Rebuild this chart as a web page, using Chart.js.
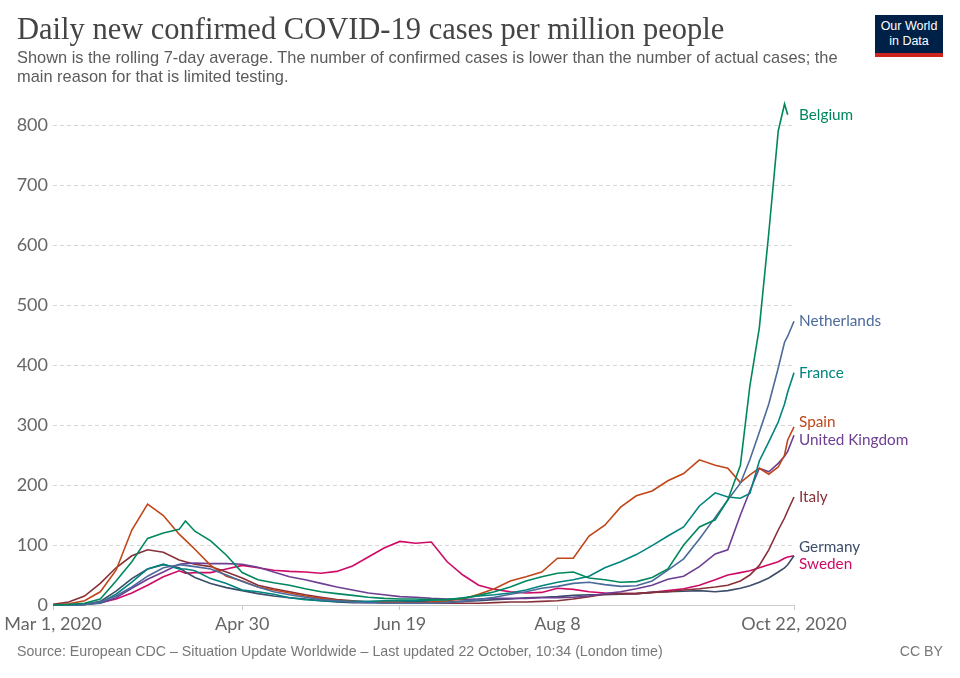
<!DOCTYPE html>
<html>
<head>
<meta charset="utf-8">
<script src="https://cdn.jsdelivr.net/npm/chart.js@4"></script>
<style>
  html, body { margin: 0; padding: 0; background: #fff; }
  #wrap { position: relative; width: 960px; height: 678px; overflow: hidden; font-family: "Liberation Sans", Arial, sans-serif; }
  #chart { position: absolute; left: 0; top: 0; }
  #title { position: absolute; left: 17px; top: 12px; font-family: "Liberation Serif", "DejaVu Serif", serif; font-size: 30.5px; color: #444; white-space: nowrap; }
  #subtitle { position: absolute; left: 17px; top: 48px; font-size: 16.4px; line-height: 19px; color: #5b5b5b; white-space: nowrap; }
  #source { position: absolute; left: 17px; top: 643px; font-size: 14.2px; color: #777; }
  #cc { position: absolute; right: 17px; top: 643px; font-size: 14.2px; color: #777; }
  #logo { position: absolute; left: 875px; top: 15px; width: 68px; height: 34px; background: #002147; border-bottom: 4px solid #ce261e; color: #fff; font-size: 12.5px; line-height: 15px; text-align: center; padding-top: 4px; }
</style>
</head>
<body>
<div id="wrap">
  <canvas id="chart" width="960" height="678"></canvas>
  <div id="title">Daily new confirmed COVID-19 cases per million people</div>
  <div id="subtitle">Shown is the rolling 7-day average. The number of confirmed cases is lower than the number of actual cases; the<br>main reason for that is limited testing.</div>
  <div id="logo">Our World<br>in Data</div>
  <div id="source">Source: European CDC – Situation Update Worldwide – Last updated 22 October, 10:34 (London time)</div>
  <div id="cc">CC BY</div>
</div>
<script>
// days since Mar 1, 2020
const days = [0, 5, 10, 15, 20, 25, 30, 35, 40, 42, 45, 50, 55, 60, 65, 70, 75, 80, 85, 90,
  95, 100, 105, 110, 115, 120, 125, 130, 135, 140, 145, 150, 155, 160, 165, 170, 175, 180, 185, 190,
  195, 200, 205, 210, 214, 218, 221, 224, 227, 230, 232, 233, 235];

const belgium = [0, 1, 3, 10, 40, 72, 111, 120, 126, 140, 123, 107, 83, 54, 42, 37, 33, 27, 22, 19,
  16, 13, 11, 10, 10, 9, 9, 11, 16, 22, 30, 40, 47, 53, 55, 45, 42, 38, 39, 46,
  60, 100, 130, 142, 175, 233, 365, 462, 620, 790, 835, 817, null];
const netherlands = [0, 0, 1, 5, 15, 30, 48, 62, 67, 66, 64, 60, 50, 39, 30, 22, 17, 13, 9, 7,
  5, 4, 3, 3, 3, 3, 4, 6, 9, 13, 18, 22, 28, 31, 36, 38, 34, 31, 32, 40,
  58, 77, 110, 146, 175, 203, 242, 288, 335, 395, 438, 448, 473];
const france = [0, 0, 1, 4, 18, 38, 60, 68, 60, 60, 57, 44, 36, 25, 22, 18, 12, 9, 7, 6,
  6, 6, 7, 7, 7, 8, 9, 12, 15, 17, 20, 25, 32, 38, 42, 48, 62, 72, 84, 99,
  115, 130, 165, 187, 180, 178, 186, 240, 272, 305, 335, 355, 387];
const spain = [0, 2, 7, 22, 58, 125, 168, 149, 118, 108, 93, 66, 48, 40, 30, 25, 20, 15, 11, 8,
  6, 5, 5, 4, 3, 5, 7, 10, 18, 27, 40, 47, 55, 78, 78, 115, 133, 163, 182, 190,
  207, 219, 242, 233, 228, 204, 217, 228, 218, 230, 250, 275, 297];
const uk = [0, 0, 1, 3, 12, 28, 43, 55, 68, 69, 70, 69, 69, 68, 63, 55, 47, 42, 36, 30,
  25, 20, 17, 14, 13, 11, 10, 9, 10, 11, 11, 11, 12, 12, 13, 15, 19, 22, 27, 33,
  43, 48, 64, 85, 92, 150, 190, 228, 222, 236, 248, 256, 283];
const italy = [1, 5, 15, 36, 62, 82, 92, 88, 75, 72, 68, 64, 55, 45, 33, 27, 22, 17, 13, 9,
  7, 5, 4, 4, 3, 3, 3, 3, 3, 4, 5, 5, 6, 7, 10, 14, 18, 19, 19, 21,
  22, 25, 27, 30, 33, 40, 50, 66, 92, 125, 145, 157, 180];
const germany = [0, 0, 1, 6, 23, 44, 60, 67, 62, 55, 46, 36, 29, 24, 19, 15, 12, 10, 7, 5,
  4, 4, 5, 5, 6, 5, 5, 6, 7, 9, 10, 12, 13, 14, 16, 17, 17, 18, 19, 21,
  22, 23, 24, 22, 24, 28, 32, 38, 45, 55, 62, 67, 82];
const sweden = [0, 0, 1, 4, 10, 20, 33, 47, 57, 53, 54, 54, 60, 66, 62, 58, 56, 55, 53, 56,
  65, 80, 95, 106, 103, 105, 72, 50, 33, 26, 22, 20, 21, 28, 26, 22, 20, 19, 19, 21,
  24, 27, 33, 42, 50, 54, 57, 62, 67, 72, 78, 80, 82];

const countries = ['Belgium', 'Netherlands', 'France', 'Spain', 'United Kingdom', 'Italy', 'Germany', 'Sweden'];
const seriesValues = [belgium, netherlands, france, spain, uk, italy, germany, sweden];
const colors = ['#00875e', '#4c6a9c', '#00847e', '#c0461a', '#6d3e91', '#883039', '#3b4d6a', '#cf0a66'];

const xTickDays = [0, 60, 110, 160, 235];
const xTickLabels = ['Mar 1, 2020', 'Apr 30', 'Jun 19', 'Aug 8', 'Oct 22, 2020'];
const yTicks = [0, 100, 200, 300, 400, 500, 600, 700, 800];

const datasets = countries.map((name, i) => ({
  label: name,
  data: days.map((d, j) => ({ x: d, y: seriesValues[i][j] })),
  borderColor: colors[i],
  backgroundColor: colors[i],
  borderWidth: 1.6,
  pointRadius: 0,
  tension: 0,
  clip: false,
}));

// country names at the right end of each line, nudged apart when they collide
const endLabels = {
  id: 'endLabels',
  afterDatasetsDraw(chart) {
    const ctx = chart.ctx;
    const yScale = chart.scales.y;
    const items = chart.data.datasets.map((ds, i) => {
      let last = null;
      for (let k = ds.data.length - 1; k >= 0; k--) {
        if (ds.data[k].y != null) { last = ds.data[k].y; break; }
      }
      return { text: ds.label, color: ds.borderColor, y: yScale.getPixelForValue(last) };
    }).sort((a, b) => a.y - b.y);
    const gap = 17.5;
    for (let iter = 0; iter < 20; iter++) {
      for (let k = 1; k < items.length; k++) {
        const d = items[k].y - items[k - 1].y;
        if (d < gap) {
          const push = (gap - d) / 2;
          items[k - 1].y -= push;
          items[k].y += push;
        }
      }
    }
    ctx.save();
    ctx.font = '15.3px Lato, "Noto Sans", sans-serif';
    ctx.textBaseline = 'middle';
    ctx.textAlign = 'left';
    items.forEach(it => {
      ctx.fillStyle = it.color;
      ctx.fillText(it.text, chart.chartArea.right + 5, it.y);
    });
    ctx.restore();
  }
};

new Chart(document.getElementById('chart'), {
  type: 'line',
  data: { datasets },
  options: {
    responsive: false,
    animation: false,
    layout: { padding: { left: 0, right: 166, top: 77, bottom: 30 } },
    plugins: { legend: { display: false }, tooltip: { enabled: false } },
    scales: {
      x: {
        type: 'linear',
        min: 0,
        max: 235,
        afterBuildTicks: axis => { axis.ticks = xTickDays.map(v => ({ value: v })); },
        afterFit: axis => { axis.height = 43; },
        ticks: {
          autoSkip: false,
          maxRotation: 0,
          padding: 3,
          color: '#666',
          font: { family: 'Lato', size: 18 },
          callback: v => xTickLabels[xTickDays.indexOf(v)],
        },
        grid: { drawOnChartArea: false, drawTicks: true, tickLength: 5, color: '#ccc' },
        border: { display: true, color: '#ccc', width: 1 },
      },
      y: {
        min: 0,
        max: 880,
        afterBuildTicks: axis => { axis.ticks = yTicks.map(v => ({ value: v })); },
        afterFit: axis => { axis.width = 53; },
        ticks: {
          padding: 5,
          color: '#666',
          font: { family: 'Lato', size: 18 },
        },
        grid: { color: '#d6d6d6', drawTicks: false },
        border: { display: false, dash: [4, 3] },
      }
    }
  },
  plugins: [endLabels]
});
</script>
</body>
</html>
